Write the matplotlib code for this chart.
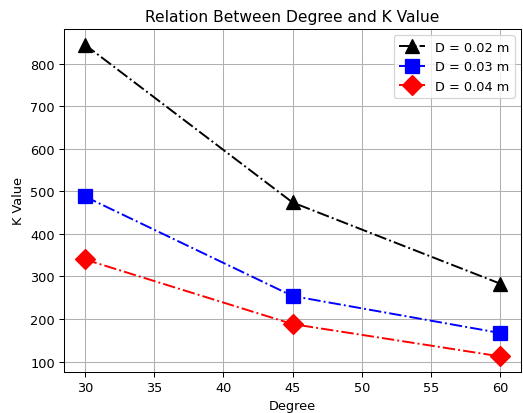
import matplotlib
matplotlib.use("Agg")
import matplotlib.pyplot as plt

degrees = [30, 45, 60]
k_d002 = [845, 474, 283]
k_d003 = [488, 254, 167]
k_d004 = [340, 188, 112]
labels = ["D = 0.02 m", "D = 0.03 m", "D = 0.04 m"]

W, H = 523, 414
DPI = 93
fig = plt.figure(figsize=(W / DPI, H / DPI), dpi=DPI)
ax = fig.add_axes([64 / W, 1 - 373 / H, (521 - 64) / W, (373 - 30) / H])

ax.plot(degrees, k_d002, color="black", linestyle="-.", marker="^", markersize=11, label=labels[0])
ax.plot(degrees, k_d003, color="blue", linestyle="-.", marker="s", markersize=11, label=labels[1])
ax.plot(degrees, k_d004, color="red", linestyle="-.", marker="D", markersize=11, label=labels[2])

ax.set_title("Relation Between Degree and K Value")
ax.set_xlabel("Degree")
ax.set_ylabel("K Value")
ax.grid(True)
ax.legend(loc="upper right")

fig.savefig("out.png", dpi=DPI)
